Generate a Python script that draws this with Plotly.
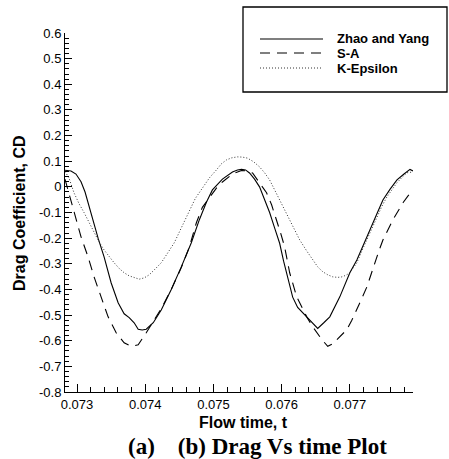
import plotly.graph_objects as go

# ---- data -------------------------------------------------------------
zy_t = [0.072824, 0.072912, 0.072985, 0.073059, 0.073118, 0.073176, 0.073250,
        0.073309, 0.073397, 0.073500, 0.073603, 0.073691, 0.073765, 0.073838,
        0.073897, 0.073956, 0.074015, 0.074118, 0.074235, 0.074382, 0.074529,
        0.074676, 0.074794, 0.074897, 0.074985, 0.075059, 0.075132, 0.075279,
        0.075353, 0.075412, 0.075471, 0.075529, 0.075603, 0.075676, 0.075750,
        0.075824, 0.075897, 0.075971, 0.076029, 0.076074, 0.076118, 0.076162,
        0.076235, 0.076309, 0.076412, 0.076471, 0.076529, 0.076618, 0.076706,
        0.076853, 0.077000, 0.077103, 0.077206, 0.077294, 0.077397, 0.077485,
        0.077588, 0.077691, 0.077794, 0.077882, 0.077926]
zy_cd = [0.065, 0.062, 0.050, 0.020, -0.020, -0.078, -0.150,
         -0.200, -0.273, -0.374, -0.452, -0.495, -0.510, -0.530,
         -0.555, -0.558, -0.555, -0.530, -0.480, -0.400, -0.312,
         -0.218, -0.128, -0.060, -0.012, 0.010, 0.030, 0.058,
         0.066, 0.068, 0.066, 0.054, 0.030, 0.000, -0.050,
         -0.100, -0.160, -0.220, -0.290, -0.335, -0.390, -0.430,
         -0.470, -0.490, -0.518, -0.535, -0.552, -0.530, -0.507,
         -0.429, -0.335, -0.285, -0.225, -0.168, -0.105, -0.051,
         -0.010, 0.027, 0.050, 0.068, 0.062]

sa_t = [0.072824, 0.072868, 0.072956, 0.073059, 0.073162, 0.073250, 0.073353,
        0.073456, 0.073574, 0.073691, 0.073794, 0.073897, 0.074015, 0.074132,
        0.074235, 0.074382, 0.074529, 0.074647, 0.074750, 0.074838, 0.074941,
        0.075044, 0.075132, 0.075279, 0.075412, 0.075500, 0.075574, 0.075676,
        0.075779, 0.075853, 0.075926, 0.075985, 0.076044, 0.076118, 0.076221,
        0.076294, 0.076368, 0.076441, 0.076515, 0.076588, 0.076676, 0.076750,
        0.076809, 0.076882, 0.076956, 0.077029, 0.077103, 0.077176, 0.077250,
        0.077309, 0.077368, 0.077426, 0.077485, 0.077559, 0.077632, 0.077706,
        0.077779, 0.077853, 0.077926]
sa_cd = [0.030, -0.012, -0.090, -0.195, -0.273, -0.351, -0.429,
         -0.507, -0.569, -0.608, -0.622, -0.616, -0.569, -0.518,
         -0.475, -0.400, -0.315, -0.235, -0.140, -0.080, -0.040,
         -0.005, 0.019, 0.050, 0.064, 0.062, 0.054, 0.015,
         -0.023, -0.070, -0.128, -0.180, -0.234, -0.335, -0.429,
         -0.470, -0.507, -0.540, -0.569, -0.595, -0.622, -0.612,
         -0.596, -0.578, -0.557, -0.520, -0.480, -0.435, -0.390,
         -0.340, -0.296, -0.250, -0.207, -0.165, -0.128, -0.095,
         -0.062, -0.035, -0.015]

ke_t = [0.072824, 0.072882, 0.072956, 0.073029, 0.073103, 0.073176, 0.073250,
        0.073324, 0.073397, 0.073471, 0.073544, 0.073618, 0.073691, 0.073765,
        0.073838, 0.073912, 0.073985, 0.074059, 0.074147, 0.074235, 0.074324,
        0.074426, 0.074529, 0.074632, 0.074735, 0.074838, 0.074941, 0.075044,
        0.075118, 0.075191, 0.075265, 0.075353, 0.075426, 0.075500, 0.075588,
        0.075676, 0.075750, 0.075824, 0.075897, 0.075971, 0.076044, 0.076118,
        0.076191, 0.076265, 0.076368, 0.076456, 0.076529, 0.076603, 0.076676,
        0.076750, 0.076824, 0.076882, 0.076941, 0.077000, 0.077059, 0.077103,
        0.077176, 0.077250, 0.077324, 0.077397, 0.077471, 0.077544, 0.077618,
        0.077691, 0.077765, 0.077838, 0.077926]
ke_cd = [0.060, 0.035, -0.023, -0.065, -0.100, -0.140, -0.180,
         -0.215, -0.246, -0.272, -0.296, -0.318, -0.335, -0.347,
         -0.355, -0.360, -0.355, -0.343, -0.320, -0.296, -0.260,
         -0.218, -0.160, -0.100, -0.045, -0.005, 0.035, 0.066,
         0.090, 0.105, 0.113, 0.117, 0.116, 0.112, 0.098,
         0.078, 0.055, 0.027, -0.012, -0.051, -0.090, -0.130,
         -0.170, -0.207, -0.250, -0.285, -0.312, -0.331, -0.343,
         -0.351, -0.353, -0.351, -0.345, -0.335, -0.315, -0.296,
         -0.250, -0.207, -0.160, -0.117, -0.075, -0.039, -0.010,
         0.016, 0.037, 0.055, 0.058]

series_names = ["Zhao and Yang", "S-A", "K-Epsilon"]

x_tick_vals = [0.073, 0.074, 0.075, 0.076, 0.077]
x_tick_text = ["0.073", "0.074", "0.075", "0.076", "0.077"]
y_tick_vals = [0.6, 0.5, 0.4, 0.3, 0.2, 0.1, 0.0, -0.1, -0.2, -0.3, -0.4,
               -0.5, -0.6, -0.7, -0.8]
y_tick_text = ["0.6", "0.5", "0.4", "0.3", "0.2", "0.1", "0", "-0.1", "-0.2",
               "-0.3", "-0.4", "-0.5", "-0.6", "-0.7", "-0.8"]

x_range = [0.072824, 0.077926]
y_range = [-0.8, 0.6]

# ---- figure geometry (pixels) ----------------------------------------
W, H = 449, 459
ML, MR, MT, MB = 65, 36, 33, 67
PW, PH = W - ML - MR, H - MT - MB


def px(x):
    return (x - ML) / PW


def py(y):
    return (H - MB - y) / PH


SANS = "Liberation Sans, Arial, sans-serif"
SERIF = "Liberation Serif, Times New Roman, serif"

styles = [
    dict(color="black", width=1.1, dash="solid"),
    dict(color="black", width=1.1, dash="10px,7px"),
    dict(color="#333333", width=1, dash="1px,2px"),
]

fig = go.Figure()
for name, t, cd, st in zip(series_names, [zy_t, sa_t, ke_t],
                           [zy_cd, sa_cd, ke_cd], styles):
    fig.add_trace(go.Scatter(x=t, y=cd, mode="lines", name=name, line=st,
                             showlegend=False, hoverinfo="skip"))

fig.update_layout(
    width=W, height=H,
    margin=dict(l=ML, r=MR, t=MT, b=MB, pad=0),
    paper_bgcolor="white", plot_bgcolor="white",
    showlegend=False,
    font=dict(family=SANS, color="black", size=13),
)

fig.update_xaxes(
    range=x_range, showgrid=False, zeroline=False,
    showline=True, linecolor="black", linewidth=1,
    ticks="inside", ticklen=8, tickwidth=1, tickcolor="black",
    tickvals=x_tick_vals, ticktext=x_tick_text,
    tickfont=dict(family=SANS, size=13),
    minor=dict(ticks="inside", ticklen=5, tickwidth=1, tickcolor="black",
               dtick=0.0002, tick0=0.073, showgrid=False),
)
fig.update_yaxes(
    range=y_range, showgrid=False, zeroline=False,
    showline=True, linecolor="black", linewidth=1,
    ticks="inside", ticklen=7, tickwidth=1, tickcolor="black",
    tickvals=y_tick_vals, ticktext=y_tick_text,
    tickfont=dict(family=SANS, size=13),
    minor=dict(ticks="inside", ticklen=4, tickwidth=1, tickcolor="black",
               dtick=0.02, tick0=0.0, showgrid=False),
)

# axis titles and caption
fig.add_annotation(x=px(19), y=py(213), xref="paper", yref="paper",
                   text="<b>Drag Coefficient, CD</b>", textangle=-90,
                   showarrow=False, font=dict(family=SANS, size=16),
                   xanchor="center", yanchor="middle")
fig.add_annotation(x=px(243), y=py(422), xref="paper", yref="paper",
                   text="<b>Flow time, t</b>", showarrow=False,
                   font=dict(family=SANS, size=16),
                   xanchor="center", yanchor="middle")
fig.add_annotation(x=px(126), y=py(446), xref="paper", yref="paper",
                   text="<b>(a)\u00a0\u00a0\u00a0\u00a0(b) Drag Vs time Plot</b>",
                   showarrow=False, font=dict(family=SERIF, size=23),
                   xanchor="left", yanchor="middle")

# legend box
fig.add_shape(type="rect", xref="paper", yref="paper",
              x0=px(243), x1=px(447), y0=py(92), y1=py(7),
              line=dict(color="black", width=1.3), fillcolor="white",
              layer="above")
legend_rows = [39, 53, 68]
for name, st, ry in zip(series_names, styles, legend_rows):
    fig.add_shape(type="line", xref="paper", yref="paper",
                  x0=px(260), x1=px(323), y0=py(ry), y1=py(ry),
                  line=st, layer="above")
    fig.add_annotation(x=px(335), y=py(ry), xref="paper", yref="paper",
                       text="<b>" + name + "</b>", showarrow=False,
                       font=dict(family=SANS, size=13),
                       xanchor="left", yanchor="middle")

fig.write_html("out.html")
